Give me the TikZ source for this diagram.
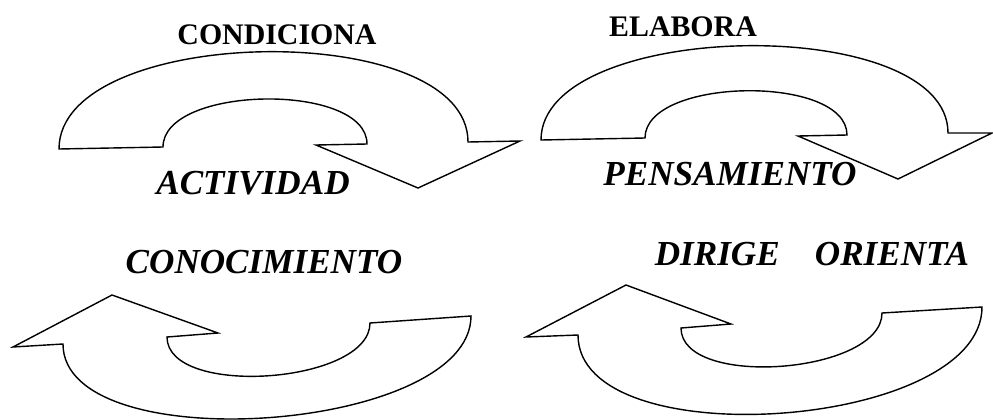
\documentclass[tikz,border=0pt]{standalone}
\usepackage{fontspec}
\setmainfont{Liberation Serif}
\usepackage{tikz}

\begin{document}
\begin{tikzpicture}[x=0.02cm, y=-0.02cm,
		flecha/.style={draw, line width=0.8pt, line join=miter},
		rotulo/.style={inner sep=0pt, font=\fontsize{17}{20}\selectfont\bfseries},
		rotuloit/.style={inner sep=0pt, font=\fontsize{20}{24}\selectfont\bfseries\itshape}]
		\useasboundingbox (0,0) rectangle (993,419);
		\draw[flecha] (59,149) .. controls (59,24) and (468,17) .. (468,142) -- (520,141) -- (418,188) -- (316,145) -- (367,144)
			.. controls (367,82) and (163,85) .. (163,147) -- cycle;
		\draw[flecha] (541,140) .. controls (541,19) and (948,12) .. (948,133) -- (992,133) -- (898,179) -- (798,136) -- (847,135)
			.. controls (847,74) and (645,77) .. (645,138) -- cycle;
		\draw[flecha] (13,347) -- (112,295) -- (218,333) -- (167,337) .. controls (167,398) and (370,384) .. (370,323)
			-- (471,316) .. controls (471,433) and (63,461) .. (63,344) -- cycle;
		\draw[flecha] (526,337) -- (626,285) -- (731,324) -- (681,328) .. controls (681,389) and (882,374) .. (882,313)
			-- (982,307) .. controls (982,430) and (578,458) .. (578,335) -- cycle;
		\node[rotulo] (condiciona) at (277,35) {CONDICIONA};
		\node[rotuloit] (actividad) at (253,183) {ACTIVIDAD};
		\node[rotulo] (elabora) at (683,27) {ELABORA};
		\node[rotuloit] (pensamiento) at (730,174) {PENSAMIENTO};
		\node[rotuloit] (conocimiento) at (264,262) {CONOCIMIENTO};
		\node[rotuloit] (dirige) at (812,254) {DIRIGE\hspace{1em}ORIENTA};
	\end{tikzpicture}
\end{document}
